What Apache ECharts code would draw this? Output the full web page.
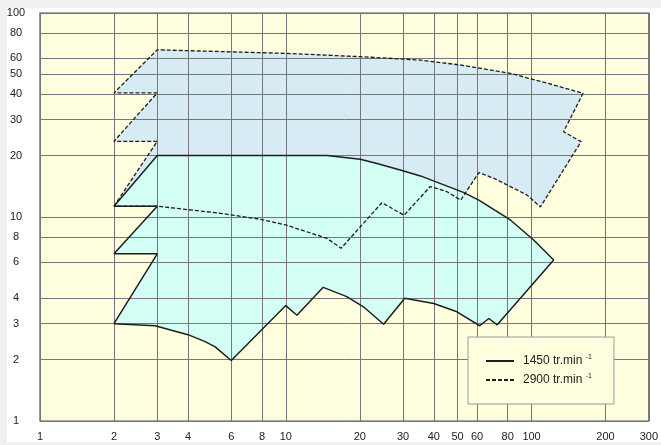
<!DOCTYPE html>
<html>
<head>
<meta charset="utf-8">
<script src="https://cdn.jsdelivr.net/npm/echarts@6/dist/echarts.min.js"></script>
<style>
  html, body { margin: 0; padding: 0; background: #f0f0f0; }
  #frame { position: absolute; left: 7px; top: 8px; width: 654px; height: 434px; background: #ffffff; }
  #chart { position: absolute; left: 0; top: 0; width: 661px; height: 445px; }
</style>
</head>
<body>
<div id="frame"></div>
<div id="chart"></div>
<script>
// Axis tick values (flow on x, head on y, both logarithmic)
const xTicks = [1, 2, 3, 4, 6, 8, 10, 20, 30, 40, 50, 60, 80, 100, 200, 300];
const yTicks = [1, 2, 3, 4, 6, 8, 10, 20, 30, 40, 50, 60, 80, 100];

// Series names shown in the legend
const seriesNames = ['1450 tr.min', '2900 tr.min'];

// Operating range at 1450 rpm, boundary traced as [x, y]
const range1450 = [
  [2, 3], [2.94, 2.93], [4.0, 2.65], [4.7, 2.45], [5.16, 2.31], [6, 1.98],
  [10, 3.68], [11.1, 3.3], [14.2, 4.52], [17.7, 4.07], [20.7, 3.63], [25, 2.98],
  [30.5, 4.0], [40, 3.77], [49.7, 3.43], [61.5, 2.93], [67, 3.18], [72.5, 2.96],
  [123, 6.15], [102, 7.71], [82, 9.67], [61, 12.1], [52.8, 13.2], [35.3, 15.9],
  [29.2, 17.0], [23.5, 18.3], [20.1, 19.2], [14.7, 20], [3, 20],
  [2, 11.3], [3, 11.3], [2, 6.6], [3, 6.6], [2, 3]
];

// Operating range at 2900 rpm, boundary traced as [x, y]
const range2900 = [
  [2, 11.3], [3, 23.5], [2, 23.5], [3, 40.6], [2, 40.6], [3, 66],
  [10, 63.4], [20, 61.1], [35.3, 58.8], [51.3, 55.6], [82, 50.6], [123, 44.4], [162, 40.4],
  [135, 26.2], [159, 23.4], [108.6, 11.2], [95.9, 12.8], [82, 14.1], [70.1, 15.5], [61, 16.5],
  [51.5, 12.1], [45.3, 13.3], [38.7, 14.1], [30.3, 10.2], [24.6, 11.75], [16.8, 7.03],
  [14.7, 7.86], [10, 9.14], [7.9, 9.74], [5.41, 10.43], [3, 11.3], [2, 11.3]
];

function areaSeries(points, color, z) {
  return {
    type: 'custom',
    coordinateSystem: 'cartesian2d',
    silent: true,
    z: z,
    data: points,
    encode: { x: 0, y: 1 },
    renderItem: function (params, api) {
      if (params.dataIndex !== 0) return null;
      const pts = points.map(function (p) { return api.coord(p); });
      return {
        type: 'polygon',
        shape: { points: pts },
        style: { fill: color, stroke: null }
      };
    }
  };
}

function outlineSeries(name, points, dash, width) {
  return {
    name: name,
    type: 'line',
    data: points,
    showSymbol: false,
    symbol: 'none',
    silent: true,
    z: 5,
    animation: false,
    color: '#1e1e1e',
    lineStyle: { color: '#1e1e1e', width: width, type: dash }
  };
}

const chart = echarts.init(document.getElementById('chart'), null, { renderer: 'canvas' });

chart.setOption({
  animation: false,
  backgroundColor: 'transparent',
  textStyle: { fontFamily: 'Liberation Sans, Arial, sans-serif' },
  grid: {
    left: 40, right: 12, top: 13, bottom: 24,
    show: true,
    backgroundColor: '#FFFFE0',
    borderColor: '#555555',
    borderWidth: 1.2
  },
  xAxis: {
    type: 'log', logBase: 10, min: 1, max: 300, z: 3,
    axisLine: { show: false },
    axisTick: { show: false, customValues: xTicks },
    axisLabel: {
      customValues: xTicks, margin: 10, fontSize: 11, color: '#222',
      formatter: function (v) { return String(Math.round(v)); }
    },
    splitLine: { show: true, lineStyle: { color: '#767676', width: 1 } },
    minorSplitLine: { show: false }
  },
  yAxis: {
    type: 'log', logBase: 10, min: 1, max: 100, z: 3,
    axisLine: { show: false },
    axisTick: { show: false, customValues: yTicks },
    axisLabel: {
      customValues: yTicks, margin: 24, align: 'center', fontSize: 11, color: '#222',
      formatter: function (v) { return String(Math.round(v)); }
    },
    splitLine: { show: true, lineStyle: { color: '#767676', width: 1 } },
    minorSplitLine: { show: false }
  },
  legend: {
    orient: 'vertical',
    left: 468, top: 337,
    padding: [17, 22, 18, 17],
    itemWidth: 28, itemHeight: 10, itemGap: 6,
    backgroundColor: '#FFFFE0',
    borderColor: '#9a9a9a', borderWidth: 1,
    itemStyle: { opacity: 0 },
    data: seriesNames,
    formatter: function (name) { return '{t|' + name + ' }{s|-1}'; },
    textStyle: {
      color: '#222',
      rich: {
        t: { fontSize: 12, padding: [0, 0, 0, 4], lineHeight: 14 },
        s: { fontSize: 7, verticalAlign: 'top', lineHeight: 14, padding: [0, 0, 6, 0] }
      }
    }
  },
  series: [
    areaSeries(range2900, '#D6EBF3', 1),
    areaSeries(range1450, '#D4FFF5', 2),
    outlineSeries(seriesNames[0], range1450, 'solid', 1.5),
    outlineSeries(seriesNames[1], range2900, [4, 2], 1.3)
  ]
});
</script>
</body>
</html>
